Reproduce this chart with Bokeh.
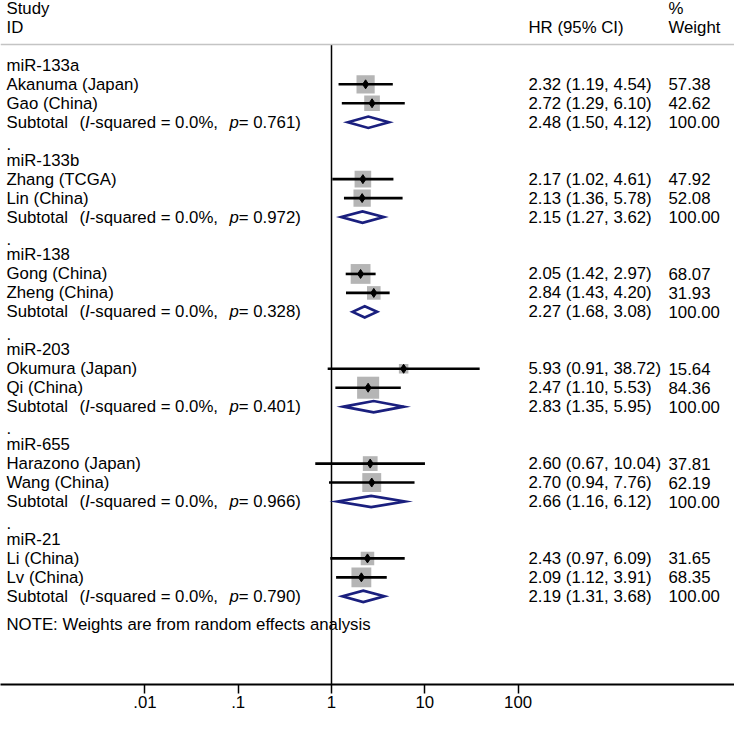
import math
from bokeh.plotting import figure
from bokeh.models import Range1d, FixedTicker, Span
from bokeh.core.properties import value
from bokeh.embed import file_html
from bokeh.resources import INLINE

# ---------------- data ----------------
groups = ["miR-133a", "miR-133b", "miR-138", "miR-203", "miR-655", "miR-21"]
studies = ["Akanuma (Japan)", "Gao (China)",
           "Zhang (TCGA)", "Lin (China)",
           "Gong (China)", "Zheng (China)",
           "Okumura (Japan)", "Qi (China)",
           "Harazono (Japan)", "Wang (China)",
           "Li (China)", "Lv (China)"]
hr = [2.32, 2.72, 2.17, 2.13, 2.05, 2.84, 5.93, 2.47, 2.60, 2.70, 2.43, 2.09]
lo = [1.19, 1.29, 1.02, 1.36, 1.42, 1.43, 0.91, 1.10, 0.67, 0.94, 0.97, 1.12]
hi = [4.54, 6.10, 4.61, 5.78, 2.97, 4.20, 38.72, 5.53, 10.04, 7.76, 6.09, 3.91]
weight = [57.38, 42.62, 47.92, 52.08, 68.07, 31.93, 15.64, 84.36, 37.81, 62.19, 31.65, 68.35]
sub_hr = [2.48, 2.15, 2.27, 2.83, 2.66, 2.19]
sub_lo = [1.50, 1.27, 1.68, 1.35, 1.16, 1.31]
sub_hi = [4.12, 3.62, 3.08, 5.95, 6.12, 3.68]
i_squared = ["0.0%", "0.0%", "0.0%", "0.0%", "0.0%", "0.0%"]
p_values = ["0.761", "0.972", "0.328", "0.401", "0.966", "0.790"]
tick_values = [0.01, 0.1, 1, 10, 100]
tick_labels = [".01", ".1", "1", "10", "100"]
note = "NOTE: Weights are from random effects analysis"

# ---------------- layout ----------------
FONT = "Liberation Sans"
FS = 16.8
FW, FH = 734, 684
DEC = 93.3          # px per decade
X_ONE = 331         # frame px of x = 1
Y_TOP, Y_BOT = -3.42, 32.65

def xpx(px):
    return 10 ** ((px - X_ONE) / DEC)

# row assignment
group_rows, study_rows, sub_rows, dot_rows = [], [], [], []
r = 0
for g in range(len(groups)):
    group_rows.append(r); r += 1
    for _ in range(2):
        study_rows.append(r); r += 1
    sub_rows.append(r); r += 1
    if g < len(groups) - 1:
        dot_rows.append(r); r += 1
note_row = r + 0.5
rule_row = -1.1

p = figure(frame_width=FW, frame_height=FH, x_axis_type="log",
           x_range=Range1d(xpx(0), xpx(FW)), y_range=Range1d(Y_BOT, Y_TOP),
           output_backend="svg", toolbar_location=None, min_border=0,
           background_fill_color="white", border_fill_color="white")
p.outline_line_color = None
p.grid.visible = False
p.yaxis.visible = False

xa = p.xaxis[0]
xa.ticker = FixedTicker(ticks=tick_values)
xa.major_label_overrides = {v: l for v, l in zip(tick_values, tick_labels)}
xa.axis_line_width = 2
xa.axis_line_color = "black"
xa.major_tick_line_width = 1.5
xa.major_tick_line_color = "black"
xa.major_tick_out = 9
xa.major_tick_in = 0
xa.minor_tick_line_color = None
xa.major_label_text_font = FONT
xa.major_label_text_font_size = f"{FS}px"
xa.major_label_text_color = "black"
xa.major_label_standoff = 2

# header rule and null line
p.add_layout(Span(location=rule_row, dimension="width", line_color="#c4c4c4", line_width=1.5))
p.segment(x0=[1], y0=[rule_row], x1=[1], y1=[Y_BOT], line_color="black", line_width=1.5)

# study markers
sizes = [2.4 * math.sqrt(w) for w in weight]
p.scatter(x=hr, y=study_rows, size=sizes, marker="square",
          fill_color="#b5b5b5", line_color=None)
p.segment(x0=lo, y0=study_rows, x1=hi, y1=study_rows, line_color="black", line_width=2.6)
p.scatter(x=hr, y=study_rows, size=9, marker="diamond", fill_color="black", line_color="black")

# subtotal diamonds
h = 0.3
dx = [[a, m, b, m] for a, m, b in zip(sub_lo, sub_hr, sub_hi)]
dy = [[rr, rr - h, rr, rr + h] for rr in sub_rows]
p.patches(xs=dx, ys=dy, fill_alpha=0, line_color="#1a1f7e", line_width=2.7, line_join="miter")

# text helpers
AW = {' ': 278, '(': 333, ')': 333, '-': 333, '=': 584, '%': 889, ',': 278, '.': 278,
      'S': 667, 'u': 556, 'b': 556, 't': 278, 'o': 556, 'a': 556, 'l': 222, 's': 500,
      'q': 556, 'r': 333, 'e': 556, 'd': 556, 'I': 278, 'p': 556}
def tw(s):
    return sum(AW.get(c, 556) for c in s) * FS / 1000.0

def txt(xs, ys, texts, style="normal", offsets=None):
    kw = dict(text_font=value(FONT), text_font_size=f"{FS}px", text_baseline="middle",
              text_align="left", text_color="black", text_font_style=style)
    if offsets is not None:
        kw["x_offset"] = offsets
    p.text(x=xs, y=ys, text=texts, **kw)

XL = xpx(6)
XHR = xpx(528)
XW = xpx(668)

# headers
txt([XL, XL], [-3, -2], ["Study", "ID"])
txt([XHR], [-2], ["HR (95% CI)"])
txt([XW, XW], [-3, -2], ["%", "Weight"])

# left labels
txt([XL] * len(groups), group_rows, groups)
txt([XL] * len(studies), study_rows, studies)
txt([XL] * len(dot_rows), [d + 0.15 for d in dot_rows], ["."] * len(dot_rows))
txt([XL], [note_row], [note])

# subtotal labels with italic parts
GAP = 2.0
seg_parts = []
for k in range(len(sub_rows)):
    parts = [("Subtotal  ", "normal", GAP), ("(", "normal", 0), ("I", "italic", 0),
             (f"-squared = {i_squared[k]},  ", "normal", GAP), ("p", "italic", 0),
             (f"= {p_values[k]})", "normal", 0)]
    off = 0.0
    for s, st, extra in parts:
        seg_parts.append((sub_rows[k], s.strip(), st, off))
        off += tw(s) + extra
for st in ("normal", "italic"):
    sel = [sp for sp in seg_parts if sp[2] == st]
    txt([XL] * len(sel), [sp[0] for sp in sel], [sp[1] for sp in sel], style=st,
        offsets=[sp[3] for sp in sel])

# right columns
hr_txt = [f"{a:.2f} ({b:.2f}, {c:.2f})" for a, b, c in zip(hr, lo, hi)]
w_txt = [f"{w:.2f}" for w in weight]
sub_txt = [f"{a:.2f} ({b:.2f}, {c:.2f})" for a, b, c in zip(sub_hr, sub_lo, sub_hi)]
txt([XHR] * len(hr_txt), study_rows, hr_txt)
txt([XW] * len(w_txt), study_rows, w_txt)
txt([XHR] * len(sub_txt), sub_rows, sub_txt)
txt([XW] * len(sub_rows), sub_rows, ["100.00"] * len(sub_rows))

open("out.html", "w").write(file_html(p, INLINE))
